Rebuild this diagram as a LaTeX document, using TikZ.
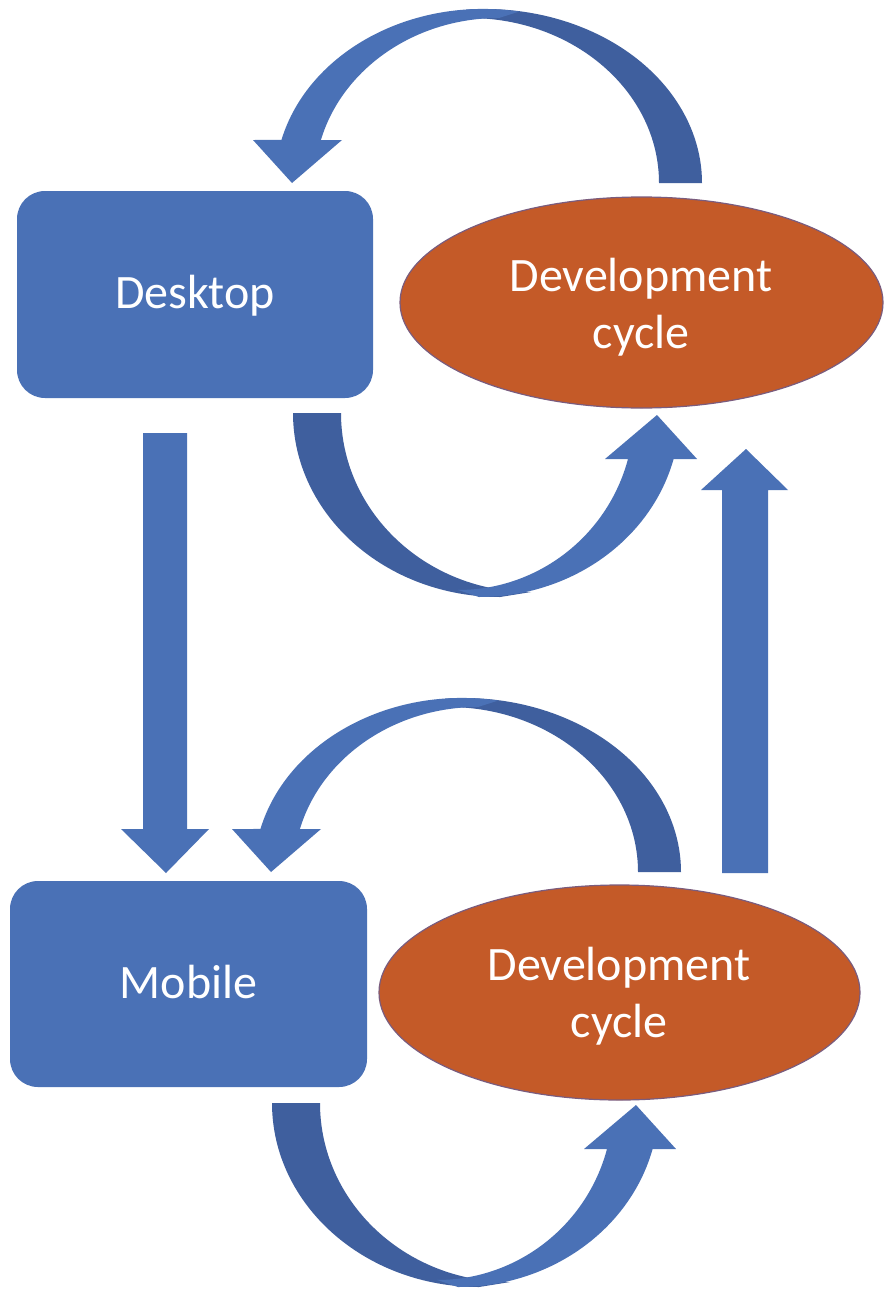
\documentclass[tikz,border=0pt]{standalone}
\usepackage{fontspec}
\setmainfont{Carlito}
\usetikzlibrary{shapes.geometric}
\definecolor{boxblue}{HTML}{4A71B6}
\definecolor{arrlight}{HTML}{4A71B6}
\definecolor{arrdark}{HTML}{3F5F9E}
\definecolor{devorange}{HTML}{C45A28}
\definecolor{devedge}{HTML}{7A5C7E}
\tikzset{
  platform/.style={rectangle, rounded corners=28pt, fill=boxblue, inner sep=0pt,
    text=white, font=\fontsize{48}{57}\selectfont, text height=31pt, text depth=3pt},
  cycleshape/.style={ellipse, fill=devorange, draw=devedge, line width=1.2pt, inner sep=0pt},
  cyclelabel/.style={anchor=base, text=white, inner sep=0pt, font=\fontsize{48}{57}\selectfont},
  front/.style={fill=arrlight},
  back/.style={fill=arrdark},
}
\begin{document}
\begin{tikzpicture}[x=1pt,y=1pt]
\useasboundingbox (0,0) rectangle (885,-1298);
\fill[white] (0,0) rectangle (885,-1298);

% nodes
\node[platform, minimum width=356pt, minimum height=207pt] (desktop) at (195,-294.5) {Desktop};
\node[platform, minimum width=357pt, minimum height=206pt] (mobile) at (188.5,-984) {Mobile};
\node[cycleshape, minimum width=483pt, minimum height=211pt] (dev1) at (641.5,-302.5) {};
\node[cycleshape, minimum width=481pt, minimum height=215pt] (dev2) at (619.5,-992.5) {};
\node[cyclelabel] (dev1a) at (641,-291) {Development};
\node[cyclelabel] (dev1b) at (641,-348) {cycle};
\node[cyclelabel] (dev2a) at (619,-980) {Development};
\node[cyclelabel] (dev2b) at (619,-1037) {cycle};

% curved arrows over the top (development cycle -> platform)
\foreach \dx/\dy in {0/0, -21/-689}{
\begin{scope}[shift={(\dx,\dy)}]
  \fill[back] (702,-183) arc[start angle=0, end angle=95, x radius=217, y radius=174]
    -- (469,-18) arc[start angle=90, end angle=0, x radius=190, y radius=165] -- cycle;
  \fill[front] (519.1,-11.6) arc[start angle=80, end angle=165.7, x radius=208, y radius=174]
    -- (253,-140) -- (292,-183) -- (342,-140) -- (320.9,-140)
    arc[start angle=164.9, end angle=90, x radius=184.5, y radius=165] -- cycle;
\end{scope}
}

% curved arrows underneath (platform -> development cycle)
\foreach \dx/\dy in {0/0, -21/-690}{
\begin{scope}[shift={(\dx,\dy)}]
  \fill[back] (293,-413) arc[start angle=180, end angle=270, x radius=207, y radius=184]
    -- (531,-592) arc[start angle=270, end angle=180, x radius=190, y radius=179] -- cycle;
  \fill[front] (479,-597) arc[start angle=270, end angle=345.52, x radius=201, y radius=184]
    -- (697,-459) -- (657,-415) -- (605,-459) -- (628,-459)
    arc[start angle=344.93, end angle=270, x radius=176, y radius=177] -- cycle;
\end{scope}
}

% straight block arrows
\fill[front] (143,-433) -- (187,-433) -- (187,-829) -- (209,-829) -- (166,-873)
  -- (121,-829) -- (143,-829) -- cycle;
\fill[front] (722,-873) -- (768,-873) -- (768,-490) -- (788,-490) -- (746,-449)
  -- (701,-490) -- (722,-490) -- cycle;
\end{tikzpicture}
\end{document}
